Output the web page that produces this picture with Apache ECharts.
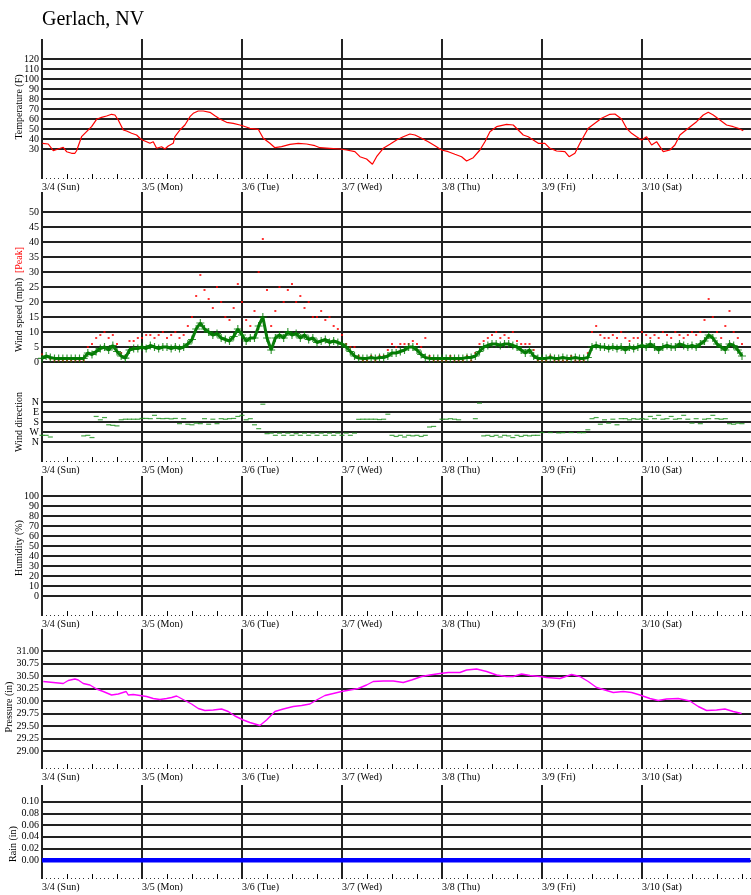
<!DOCTYPE html>
<html><head><meta charset="utf-8">
<script src="https://cdn.jsdelivr.net/npm/echarts@6/dist/echarts.min.js"></script>
<style>html,body{margin:0;padding:0;background:#fff}#c{width:751px;height:895px}</style>
</head><body><div id="c"></div>
<script>
// ---------- data ----------
const dayLabels = ['3/4 (Sun)','3/5 (Mon)','3/6 (Tue)','3/7 (Wed)','3/8 (Thu)','3/9 (Fri)','3/10 (Sat)'];
const dayHours = [0,24,48,72,96,120,144];   // hours since 3/4 00:00

const tempTicks = [30,40,50,60,70,80,90,100,110,120];
const windTicks = [0,5,10,15,20,25,30,35,40,45,50];
const dirTicks = [0,90,180,270,360];
const dirLabels = ['N','E','S','W','N'];
const humTicks = [0,10,20,30,40,50,60,70,80,90,100];
const pressTicks = [29.00,29.25,29.50,29.75,30.00,30.25,30.50,30.75,31.00];
const rainTicks = [0,0.02,0.04,0.06,0.08,0.10];

const tempHours = [0.1,1.5,2.7,3.9,5.1,5.9,7.1,7.9,8.3,9.5,10.7,11.9,13.1,14.3,15.5,16.7,17.5,18.3,19.5,20.3,21.5,22.7,23.5,24.1,25.1,25.9,26.7,27.5,28.7,29.5,30.3,31.5,31.9,33.1,34.3,35.5,36.3,37.5,38.7,40.3,41.5,42.7,44.3,45.9,47.5,48.3,49.9,51.9,53.1,54.7,55.9,57.5,59.5,61.5,63.5,65.5,66.7,69.1,71.5,73.1,75.1,76.3,77.9,79.3,80.3,81.9,83.5,85.1,86.7,88.3,89.5,91.1,92.7,94.3,95.9,97.5,99.1,100.7,101.9,103.5,105.1,106.3,107.5,109.1,111.5,113.1,114.3,115.5,116.7,117.9,119.1,120.7,121.9,123.5,125.5,126.5,127.9,129.1,131.1,132.7,134.3,136.3,137.5,139.1,140.3,141.5,142.7,143.9,145.1,146.3,147.5,149.1,150.7,151.9,153.1,155.1,157.1,158.7,159.9,161.1,162.7,164.3,165.9,167.1,168.3];
const tempValues = [35.7,35,28.3,30,31.7,27.3,25.7,25.7,28.3,42.3,47.3,52.3,59.7,61.7,63,64.7,64,59,49,48,45.7,44,40.7,39,37.3,35.7,37.3,30.7,32.3,30,33,35.7,42.3,49,54,62.3,65.7,68,68,66.7,63.3,60,56.7,55.7,54,53,50.7,49.7,40.7,35.7,31.3,32.3,34.7,35.7,35,33.3,31.3,30.7,30,29,27.3,22.3,20,14.7,22.3,30.7,34.7,39,42.3,45,44,40.7,37.3,33.3,29,27.3,24.7,22.3,18,21.3,29,37.3,47.3,52.3,54.7,54,49,44,42.3,39,35.7,35.7,30.7,28,27.3,22.3,25.7,35.7,50.7,55.7,60.7,64.7,65,60,50.7,45.7,42.3,39,42.3,34,37.3,27.3,29,34,44,50.7,57.3,64,66.7,64,59,54,52.3,50.7,48.3];

// hourly wind values, hour 0 .. 168
const windAvg = [1.2,2,1.5,1.2,1.2,1.2,1.2,1.2,1.2,1.2,1.2,
 3,2.5,3.5,4.5,5,4,5.5,3.5,2,1.3,4,4.5,4.5,
 5,4.5,5.5,5,4.5,5,5,4.5,5,4.5,5,6,7.5,11,13,11,10,9,9.5,8,7.5,7,8.5,11,
 9,7,8,8,12,15,8,4,8,9,8,10,9,9.5,8,9,7.5,8,6.5,7,7.5,6.5,7,6.5,
 6,5,3.5,2,1.3,1.2,1.2,1.5,1.2,1.5,1.5,2,3,3,3.5,4,5,5,4,2.5,1.5,1.2,1.2,1.2,
 1.2,1.2,1.2,1.2,1.2,1.2,1.5,1.5,2,3.5,5,5.5,6,6,5.5,6,6,5.5,5,4,3,4,2,1.2,
 1.2,1.2,1.5,1.2,1.2,1.5,1.2,1.2,1.5,1.2,1.2,1.5,5,5.5,5,5,4.5,5,4.5,5,4,5,4.5,5,
 5.5,5,6,5,4,5,5.5,5,5,6,5.5,5,5.5,5,6,7,9,8,6,5,4,6,5.5,4,2];
const windPeak = [2.5,2,1,0.5,0.5,0.5,0.5,0.5,0.5,0.5,0.5,
 5,6,8,9,10,8,9,6,3,2,7,7,8,
 8,9,9,8,9,10,8,9,10,8,9,12,15,22,29,24,21,18,25,20,15,14,18,26,
 20,14,12,17,30,41,24,12,17,25,20,24,26,20,22,18,20,15,15,17,14,15,12,11,
 9,6,5,5,2,0.5,0.5,2,0.5,2,2,4,6,5,6,6,6,7,6,5,8,2,0.5,0.5,
 0.5,0.5,2,0.5,0.5,0.5,2,0.5,3,6,7,8,9,10,8,9,8,10,7,6,6,6,4,0.5,
 0.5,0.5,2,0.5,0.5,0.5,0.5,2,0.5,0.5,0.5,3,10,12,9,8,8,9,8,10,8,7,8,8,
 10,9,8,9,8,10,9,8,10,9,8,9,10,9,10,14,21,15,10,8,12,17,10,8,6];
const windDir = [300,300,315,null,null,null,null,null,null,null,305,
 300,320,130,160,140,205,210,215,160,155,155,155,155,
 148,148,150,120,148,150,148,152,148,195,150,200,205,190,195,150,200,155,195,150,155,150,148,130,
 120,160,150,205,240,20,285,280,300,280,300,280,300,285,300,280,300,280,300,280,300,280,300,280,
 300,280,300,280,156,155,155,155,155,158,155,110,300,310,300,315,300,305,300,310,300,225,220,null,
 155,155,150,155,160,null,null,null,150,10,305,300,310,300,315,300,305,320,300,310,300,305,300,300,
 275,null,275,null,278,276,null,275,null,276,276,250,150,140,200,160,190,155,205,150,150,160,150,155,
 150,155,130,150,120,155,150,130,155,150,120,155,190,150,195,155,150,120,150,155,150,195,200,190,195];

const pressHours = [0.3,2.7,5.1,6.3,7.9,8.7,9.9,11.5,13.1,14.7,16.7,18.3,20.2,20.7,21.9,23.5,25.1,26.7,28.3,29.9,31.1,32.3,34.3,35.9,37.5,39.1,41.1,43.1,44.7,46.3,48.3,49.9,52.3,53.9,55.9,57.9,60.3,62.3,64.3,65.9,67.9,69.9,71.9,73.9,75.9,77.9,79.5,81.9,84.3,86.7,88.7,91.1,93.1,95.5,97.5,100.3,101.9,104.3,106.7,109.1,111.5,113.1,115.1,117.1,119.5,121.1,124.3,127.1,129.1,131.1,133.1,135.1,137.1,139.5,141.5,143.5,145.9,147.9,149.9,152.7,155.5,157.5,159.5,161.9,163.9,165.9,167.9];
const pressValues = [30.39,30.37,30.35,30.41,30.44,30.42,30.35,30.32,30.24,30.19,30.12,30.14,30.19,30.12,30.13,30.11,30.09,30.05,30.03,30.05,30.07,30.10,30.01,29.94,29.85,29.81,29.82,29.84,29.79,29.70,29.62,29.57,29.51,29.62,29.79,29.84,29.89,29.91,29.94,30.02,30.11,30.15,30.19,30.22,30.25,30.32,30.39,30.40,30.40,30.37,30.42,30.49,30.52,30.55,30.57,30.57,30.62,30.64,30.59,30.52,30.49,30.49,30.54,30.51,30.49,30.47,30.45,30.53,30.49,30.39,30.27,30.22,30.17,30.19,30.17,30.12,30.05,30.01,30.04,30.05,30.00,29.89,29.81,29.82,29.84,29.79,29.75];

const rainHours = [0,24,48,72,96,120,144,170];
const rainValues = [0,0,0,0,0,0,0,0];

// ---------- helpers ----------
const FONT = 'Liberation Serif';
const LINE = {color:'#222', width:2, type:'solid'};
const zip = (a,b) => a.map((v,i)=>[v,b[i]]);
const hourly = arr => arr.map((v,i)=>[i,v]);

const grids = [
  {left:42, right:0, top:39, height:140},   // 0 temperature
  {left:42, right:0, top:192, height:200},  // 1 wind speed
  {left:42, right:0, top:392, height:70},   // 2 wind direction
  {left:42, right:0, top:476, height:140},  // 3 humidity
  {left:42, right:0, top:629, height:140},  // 4 pressure
  {left:42, right:0, top:785, height:94}    // 5 rain
];

function xAx(gi, show){
  return {type:'value', gridIndex:gi, min:0, max:170.16, interval:6, show:show,
    axisLine:{show:false, onZero:false}, splitLine:{show:false},
    axisTick:{show:show, inside:true, length:5, lineStyle:{color:'#000', width:1}},
    minorTick:{show:show, splitNumber:6, length:1, lineStyle:{color:'#333', width:1}},
    axisLabel:{show:show, customValues:dayHours, formatter:v=>{const i=dayHours.indexOf(v);return i>=0?dayLabels[i]:'';},
      align:'left', verticalAlign:'top', margin:3, color:'#000', fontFamily:FONT, fontSize:10}};
}
function yAx(gi, min, max, ticks, fmt, extra){
  return Object.assign({type:'value', gridIndex:gi, min:min, max:max,
    axisLine:{show:false, onZero:false}, axisTick:{show:false}, splitLine:{show:false},
    axisLabel:{customValues:ticks, formatter:fmt, margin:3, color:'#000', fontFamily:FONT, fontSize:10}}, extra||{});
}
function gridLines(gi, yTicks){
  return {type:'line', xAxisIndex:gi, yAxisIndex:gi, data:[], silent:true, clip:false, z:1,
    markLine:{silent:true, symbol:['none','none'], z:1, animation:false, label:{show:false},
      lineStyle:LINE, emphasis:{disabled:true},
      data:[...yTicks.map(v=>({yAxis:v})), ...dayHours.map(h=>({xAxis:h}))]}};
}
const plus = 'path://M3,0h1v3h3v1h-3v3h-1v-3h-3v-1h3z';

const option = {
  animation:false,
  backgroundColor:'#fff',
  grid:grids,
  xAxis:[xAx(0,true), xAx(1,false), xAx(2,true), xAx(3,true), xAx(4,true), xAx(5,true)],
  yAxis:[
    yAx(0, 0, 140, tempTicks, v=>String(v)),
    yAx(1, -10, 56.667, windTicks, v=>String(v)),
    yAx(2, -90, 540, dirTicks, v=>{const i=dirTicks.indexOf(v);return i>=0?dirLabels[i]:'';}, {inverse:true}),
    yAx(3, -20, 120, humTicks, v=>String(v)),
    yAx(4, 28.64, 31.44, pressTicks, v=>v.toFixed(2)),
    yAx(5, -0.032, 0.1285, rainTicks, v=>v.toFixed(2))
  ],
  series:[
    gridLines(0, tempTicks),
    gridLines(1, windTicks),
    gridLines(2, dirTicks),
    gridLines(3, humTicks),
    gridLines(4, pressTicks),
    gridLines(5, rainTicks),
    {type:'line', xAxisIndex:0, yAxisIndex:0, data:zip(tempHours,tempValues), showSymbol:false, z:10,
      lineStyle:{color:'#ff0000', width:1.2}},
    {type:'scatter', xAxisIndex:1, yAxisIndex:1, data:hourly(windPeak), symbol:'rect', symbolSize:[2,2], z:10,
      itemStyle:{color:'#ff0000'}},
    {type:'line', xAxisIndex:1, yAxisIndex:1, data:hourly(windAvg), showSymbol:false, z:11,
      lineStyle:{color:'#0a7d0a', width:3}},
    {type:'scatter', xAxisIndex:1, yAxisIndex:1, data:hourly(windAvg), symbol:plus, symbolSize:8, z:12,
      itemStyle:{color:'#007a00'}},
    {type:'scatter', xAxisIndex:2, yAxisIndex:2, data:hourly(windDir).filter(d=>d[1]!==null), symbol:'rect', symbolSize:[5,1.2], z:10,
      itemStyle:{color:'#1a901a'}},
    {type:'line', xAxisIndex:4, yAxisIndex:4, data:zip(pressHours,pressValues), showSymbol:false, z:10,
      lineStyle:{color:'#ff00ff', width:1.4}},
    {type:'line', xAxisIndex:5, yAxisIndex:5, data:zip(rainHours,rainValues), showSymbol:false, z:10, clip:false,
      lineStyle:{color:'#0000ff', width:4.5}}
  ],
  graphic:[
    {type:'text', x:42, y:20, style:{text:'Gerlach, NV', font:'20px "Liberation Serif"', fill:'#000', verticalAlign:'middle'}},
    {type:'text', x:19, y:107, rotation:Math.PI/2, style:{text:'Temperature (F)', font:'10px "Liberation Serif"', fill:'#000', align:'center', verticalAlign:'middle'}},
    {type:'text', x:19, y:315, rotation:Math.PI/2, style:{text:'Wind speed (mph)', font:'10px "Liberation Serif"', fill:'#000', align:'center', verticalAlign:'middle'}},
    {type:'text', x:19, y:260, rotation:Math.PI/2, style:{text:'[Peak]', font:'10px "Liberation Serif"', fill:'#ff0000', align:'center', verticalAlign:'middle'}},
    {type:'text', x:19, y:422, rotation:Math.PI/2, style:{text:'Wind direction', font:'10px "Liberation Serif"', fill:'#000', align:'center', verticalAlign:'middle'}},
    {type:'text', x:19, y:548, rotation:Math.PI/2, style:{text:'Humidity (%)', font:'10px "Liberation Serif"', fill:'#000', align:'center', verticalAlign:'middle'}},
    {type:'text', x:9.5, y:707, rotation:Math.PI/2, style:{text:'Pressure (in)', font:'10px "Liberation Serif"', fill:'#000', align:'center', verticalAlign:'middle'}},
    {type:'text', x:13.5, y:844, rotation:Math.PI/2, style:{text:'Rain (in)', font:'10px "Liberation Serif"', fill:'#000', align:'center', verticalAlign:'middle'}}
  ]
};
const chart = echarts.init(document.getElementById('c'), null, {renderer:'canvas'});
chart.setOption(option);
</script></body></html>
